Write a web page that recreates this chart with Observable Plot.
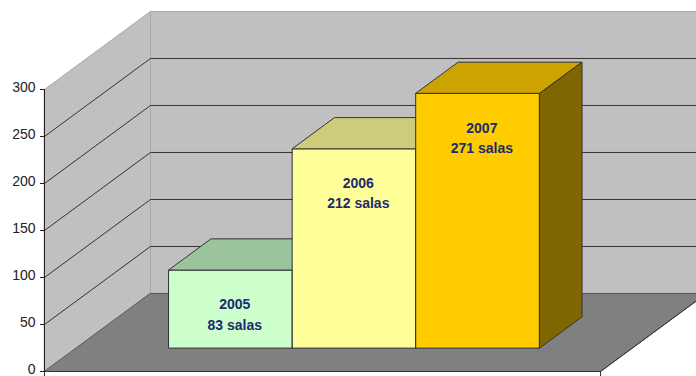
<!DOCTYPE html>
<html><head><meta charset="utf-8">
<script src="https://cdn.jsdelivr.net/npm/d3@7"></script>
<script src="https://cdn.jsdelivr.net/npm/@observablehq/plot@0.6"></script>
<style>html,body{margin:0;padding:0;background:#fff;overflow:hidden}</style>
</head><body><div id="chart"></div>
<script>
// ---- data ----
const years = ["2005", "2006", "2007"];
const salas = [83, 212, 271];
const yTicks = [0, 50, 100, 150, 200, 250, 300];
const frontColors = ["#ccffcc", "#ffff99", "#ffcc00"];
const topColors = ["#9cc49c", "#cccc7a", "#cca300"];
const sideColors = ["#7a997a", "#99995c", "#806600"];

// ---- oblique 3D projection in data space ----
const yMax = yTicks[yTicks.length - 1];
const KX = 106 / 556;   // depth shift in category units
const KY = 83;          // depth shift in value units
const P = (u, d, v) => ({x: u + d * KX, y: v + d * KY});

function pushPoly(arr, id, fill, pts) {
  pts.forEach(([u, d, v]) => { const p = P(u, d, v); arr.push({id, fill, x: p.x, y: p.y}); });
}

// walls & floor
const backWall = [], sideWall = [], floor = [];
pushPoly(backWall, "back", "#c0c0c0", [[0,1,0],[1,1,0],[1,1,yMax],[0,1,yMax]]);
pushPoly(sideWall, "side", "#c0c0c0", [[0,0,0],[0,1,0],[0,1,yMax],[0,0,yMax]]);
pushPoly(floor, "floor", "#808080", [[0,0,0],[1,0,0],[1,1,0],[0,1,0]]);

// gridlines
const grid = [];
yTicks.filter(v => v > 0 && v < yMax).forEach(v => {
  [[0,0,v],[0,1,v],[1,1,v]].forEach(([u,d,vv]) => { const p = P(u,d,vv); grid.push({id: v, x: p.x, y: p.y}); });
});

// bars: one category, three series (gap width 50%, gap depth 150%)
const n = years.length;
const clusterStart = 1 / 6, barW = (2 / 3) / n, d0 = 0.3, d1 = 0.7;
const bars = years.map((yr, i) => ({year: yr, value: salas[i], u0: clusterStart + i * barW, u1: clusterStart + (i + 1) * barW, i}));
const barPolys = [];
bars.forEach(b => {
  const {u0, u1, value: v, i} = b;
  pushPoly(barPolys, b.year + "f", frontColors[i], [[u0,d0,0],[u1,d0,0],[u1,d0,v],[u0,d0,v]]);
  pushPoly(barPolys, b.year + "t", topColors[i], [[u0,d0,v],[u1,d0,v],[u1,d1,v],[u0,d1,v]]);
  pushPoly(barPolys, b.year + "s", sideColors[i], [[u1,d0,0],[u1,d1,0],[u1,d1,v],[u1,d0,v]]);
});

// floor front edge and right edge
const floorEdge = [];
[[0,0,0],[1,0,0],[1,1,0]].forEach(([u,d,v]) => { const p = P(u,d,v); floorEdge.push({x: p.x, y: p.y}); });

const chart = Plot.plot({
  width: 696,
  height: 376,
  marginLeft: 44,
  marginRight: 96,
  marginTop: 89,
  marginBottom: 5,
  style: {fontFamily: "'Liberation Sans', Arial, sans-serif", fontSize: "14px", color: "#222", background: "#fff", overflow: "hidden"},
  color: {type: "identity"},
  x: {domain: [0, 1], axis: null},
  y: {domain: [0, yMax], axis: null, label: null},
  marks: [
    Plot.line(backWall, {x: "x", y: "y", z: "id", fill: "fill", stroke: "#a8a8a8", strokeWidth: 1, curve: "linear-closed"}),
    Plot.line(sideWall, {x: "x", y: "y", z: "id", fill: "fill", stroke: "#a8a8a8", strokeWidth: 1, curve: "linear-closed"}),
    Plot.line(floor, {x: "x", y: "y", z: "id", fill: "fill", stroke: "#555", strokeWidth: 1, curve: "linear-closed"}),
    Plot.line(grid, {x: "x", y: "y", z: "id", stroke: "#333", strokeWidth: 1}),
    Plot.line(barPolys, {x: "x", y: "y", z: "id", fill: "fill", stroke: "#333", strokeWidth: 1, curve: "linear-closed"}),
    Plot.line(floorEdge, {x: "x", y: "y", stroke: "#333", strokeWidth: 1}),
    Plot.ruleX([0, 1], {y1: 0, y2: -6, stroke: "#333"}),
    Plot.ruleX([0], {stroke: "#222"}),
    Plot.axisY({ticks: yTicks, tickSize: 4, fill: "none", stroke: "#222", label: null}),
    Plot.axisY({ticks: yTicks, tickSize: 4, tickPadding: 5, stroke: "none", fill: "#222", fontSize: 14, dy: -2, label: null}),
    Plot.text(bars, {
      x: d => (d.u0 + d.u1) / 2 + d0 * KX,
      y: d => d.value + d0 * KY,
      text: d => `${d.year}\n${d.value} salas`,
      fontWeight: "bold",
      fontSize: 14,
      lineHeight: 1.45,
      fill: "#1c2a6e",
      dy: 43,
      dx: 4
    })
  ]
});
document.getElementById("chart").appendChild(chart);
</script>
</body></html>
